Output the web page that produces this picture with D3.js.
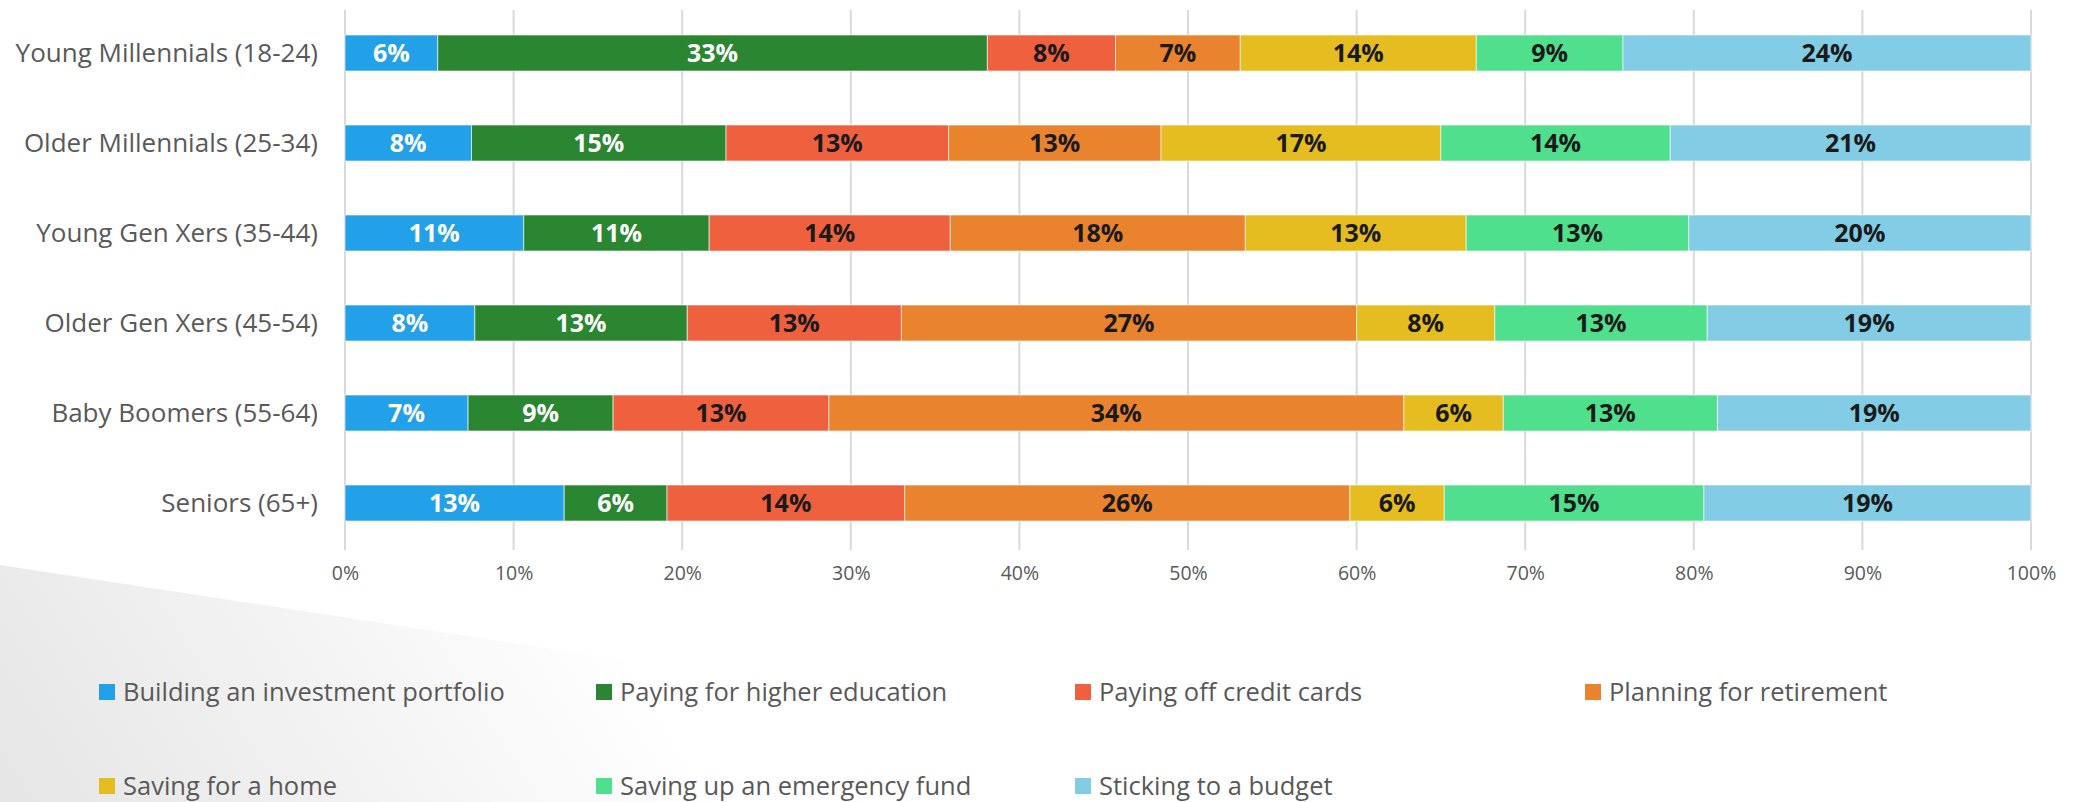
<!DOCTYPE html>
<html>
<head>
<meta charset="utf-8">
<script src="https://cdn.jsdelivr.net/npm/d3@7"></script>
<style>
  body { margin: 0; background: #fff; }
  svg text { font-family: "Open Sans", sans-serif; }
</style>
</head>
<body>
<div id="chart"></div>
<script>
const groups = ["Young Millennials (18-24)", "Older Millennials (25-34)", "Young Gen Xers (35-44)",
  "Older Gen Xers (45-54)", "Baby Boomers (55-64)", "Seniors (65+)"];

const seriesNames = ["Building an investment portfolio", "Paying for higher education",
  "Paying off credit cards", "Planning for retirement", "Saving for a home",
  "Saving up an emergency fund", "Sticking to a budget"];

const colors = ["#22a0e8", "#2a8631", "#ef613e", "#ea832e", "#e5bd21", "#4fdf8d", "#82cde5"];

// share per group, one array per series (percent)
const investment = [5.5, 7.5, 10.6, 7.7, 7.3, 13.0];
const education  = [32.6, 15.1, 11.0, 12.6, 8.6, 6.1];
const creditCards = [7.6, 13.2, 14.3, 12.7, 12.8, 14.1];
const retirement = [7.4, 12.6, 17.5, 27.0, 34.1, 26.4];
const home       = [14.0, 16.6, 13.1, 8.2, 5.9, 5.6];
const emergency  = [8.7, 13.6, 13.2, 12.6, 12.7, 15.4];
const budget     = [24.2, 21.4, 20.3, 19.2, 18.6, 19.4];

const xTicks = [0, 10, 20, 30, 40, 50, 60, 70, 80, 90, 100];

const seriesValues = [investment, education, creditCards, retirement, home, emergency, budget];
const whiteLabel = [true, true, false, false, false, false, false];

const W = 2076, H = 802;
const svg = d3.select("#chart").append("svg")
    .attr("width", W).attr("height", H);

// light grey wedge in the lower left, like the slide background
const defs = svg.append("defs");
const grad = defs.append("linearGradient").attr("id", "bg")
    .attr("gradientUnits", "userSpaceOnUse")
    .attr("x1", 0).attr("y1", 802).attr("x2", 520).attr("y2", 470);
grad.append("stop").attr("offset", "0").attr("stop-color", "#e5e5e5");
grad.append("stop").attr("offset", "1").attr("stop-color", "#ffffff");
svg.append("path")
    .attr("d", "M0,565 L1560,802 L0,802 Z")
    .attr("fill", "url(#bg)");

const x = d3.scaleLinear().domain([0, 100]).range([345, 2031]);
const y = d3.scaleBand().domain(groups).range([8, 548])
    .paddingInner(0.6).paddingOuter(0.3);

// grid
svg.append("g").selectAll("line").data(xTicks).enter().append("line")
    .attr("x1", d => x(d)).attr("x2", d => x(d))
    .attr("y1", 10).attr("y2", 550)
    .attr("stroke", "#d9d9d9").attr("stroke-width", 2);

// stacked data
const rows = groups.map((g, i) => {
  const r = {group: g};
  seriesNames.forEach((s, j) => r[s] = seriesValues[j][i]);
  return r;
});
const stacked = d3.stack().keys(seriesNames)(rows);

const layer = svg.append("g").selectAll("g").data(stacked).enter().append("g")
    .attr("fill", (d, i) => colors[i]);

layer.selectAll("rect").data(d => d).enter().append("rect")
    .attr("x", d => x(d[0]))
    .attr("y", d => y(d.data.group))
    .attr("width", d => x(d[1]) - x(d[0]))
    .attr("height", y.bandwidth())
    .attr("stroke", "rgba(255,255,255,0.6)")
    .attr("stroke-width", 1);

layer.each(function(s, si) {
  d3.select(this).selectAll("text").data(s).enter().append("text")
      .attr("x", d => (x(d[0]) + x(d[1])) / 2)
      .attr("y", d => y(d.data.group) + y.bandwidth() / 2)
      .attr("dy", "0.36em")
      .attr("text-anchor", "middle")
      .attr("font-size", 25)
      .attr("font-weight", "bold")
      .attr("fill", whiteLabel[si] ? "#ffffff" : "#1a1a1a")
      .text(d => Math.round(d[1] - d[0]) + "%");
});

// category labels
svg.append("g").selectAll("text").data(groups).enter().append("text")
    .attr("x", 318)
    .attr("y", d => y(d) + y.bandwidth() / 2)
    .attr("dy", "0.36em")
    .attr("text-anchor", "end")
    .attr("font-size", 26)
    .attr("fill", "#595959")
    .text(d => d);

// x axis labels
const xAxis = d3.axisBottom(x).tickValues(xTicks).tickFormat(d => d + "%").tickSize(0).tickPadding(0);
const ax = svg.append("g").attr("transform", "translate(0,566)").call(xAxis);
ax.select(".domain").remove();
ax.selectAll("text")
    .attr("font-size", 19.5)
    .attr("fill", "#595959")
    .attr("font-family", "Open Sans, sans-serif");

// legend
const legendX = [99, 596, 1075, 1585];
const legendY = [692, 786];
const leg = svg.append("g").selectAll("g").data(seriesNames).enter().append("g")
    .attr("transform", (d, i) => "translate(" + legendX[i % 4] + "," + legendY[Math.floor(i / 4)] + ")");
leg.append("rect")
    .attr("x", 0).attr("y", -8).attr("width", 16).attr("height", 16)
    .attr("fill", (d, i) => colors[i]);
leg.append("text")
    .attr("x", 24).attr("dy", "0.36em")
    .attr("font-size", 25.5)
    .attr("fill", "#595959")
    .text(d => d);
</script>
</body>
</html>
